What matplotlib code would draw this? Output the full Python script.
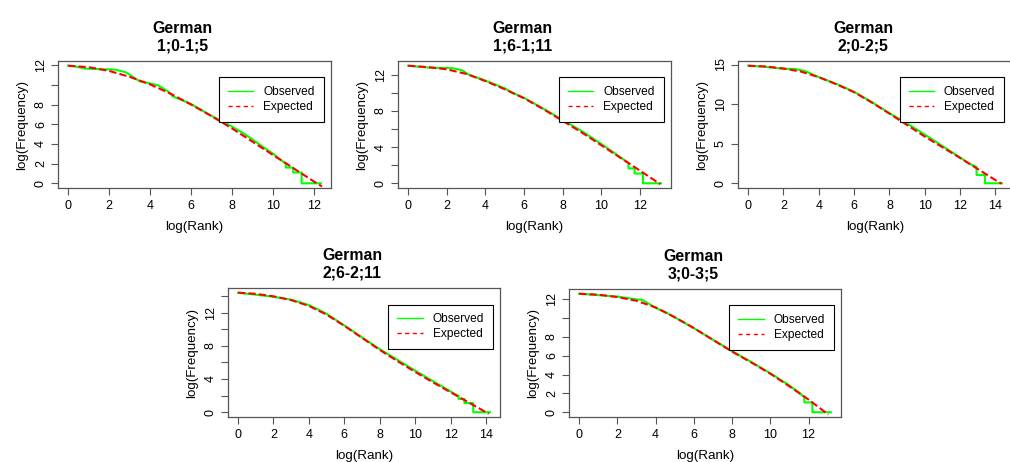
import numpy as np
import matplotlib
matplotlib.use("Agg")
import matplotlib.pyplot as plt
from matplotlib.lines import Line2D

plt.rcParams['font.family'] = ['Liberation Sans', 'DejaVu Sans']

# 每个面板的标题
titles = ["German\n1;0-1;5", "German\n1;6-1;11", "German\n2;0-2;5",
          "German\n2;6-2;11", "German\n3;0-3;5"]

# 观测值 (绿色) log(Rank), log(Frequency)
obs_x_1 = [0, 0.4, 0.85, 1.6, 2.3, 2.8, 3.1, 3.5, 4.0, 4.4, 4.9, 5.1, 6.0, 7.0, 8.0, 8.5,
           9.0, 9.5, 10.0, 10.3, 10.62, 10.62, 10.98, 10.98, 11.39, 11.39, 12.33]
obs_y_1 = [11.95, 11.85, 11.65, 11.6, 11.55, 11.3, 10.9, 10.35, 10.15, 9.95, 9.3, 8.85, 8.05,
           6.85, 5.75, 5.15, 4.45, 3.7, 3.0, 2.5, 2.0, 1.6, 1.6, 1.1, 1.1, 0, 0]
obs_x_2 = [0, 1, 2.3, 2.8, 3.1, 4, 5, 5.4, 6, 7, 8, 9, 10, 11, 11.4, 11.4, 11.72, 11.72,
           12.15, 12.15, 13.08]
obs_y_2 = [13.0, 12.8, 12.72, 12.5, 12.05, 11.35, 10.5, 10.0, 9.45, 8.25, 7.0, 5.75, 4.35,
           2.85, 2.25, 1.65, 1.65, 1.08, 1.08, 0, 0]
obs_x_3 = [0, 1, 2, 2.6, 3.2, 4, 5, 6, 7, 8, 9, 10, 11, 12, 12.5, 12.93, 12.93, 13.4, 13.4, 14.36]
obs_y_3 = [14.85, 14.7, 14.45, 14.45, 14.2, 13.4, 12.55, 11.55, 10.25, 8.85, 7.55, 6.15, 4.7,
           3.25, 2.5, 2.05, 1.05, 1.05, 0, 0]
obs_x_4 = [0, 1, 2, 3, 4, 5, 6, 7, 8, 9, 10, 11, 12, 12.45, 12.45, 12.78, 12.78, 13.28, 13.28, 14.22]
obs_y_4 = [14.38, 14.15, 13.9, 13.55, 12.9, 11.85, 10.45, 9.0, 7.6, 6.3, 5.0, 3.75, 2.5, 1.95,
           1.6, 1.6, 1.1, 1.1, 0, 0]
obs_x_5 = [0, 1, 2, 3, 3.3, 3.6, 4.0, 4.6, 5.0, 6, 7, 8, 9, 10, 11, 11.5, 11.78, 11.78, 12.2,
           12.2, 13.17]
obs_y_5 = [12.6, 12.45, 12.3, 12.0, 11.95, 11.6, 11.1, 10.55, 10.1, 8.95, 7.7, 6.5, 5.35, 4.15,
           2.85, 2.1, 1.6, 1.05, 1.05, 0, 0]

# 期望值 (红色虚线)
exp_x_1 = [0, 1, 2, 3, 4, 5, 6, 7, 8, 9, 10, 11, 12, 12.38]
exp_y_1 = [11.95, 11.8, 11.42, 10.82, 10.05, 9.1, 8.0, 6.82, 5.57, 4.22, 2.87, 1.52, 0.17, -0.32]
exp_x_2 = [0, 1, 2, 3, 4, 5, 6, 7, 8, 9, 10, 11, 12, 13.05]
exp_y_2 = [13.0, 12.85, 12.6, 12.1, 11.3, 10.4, 9.4, 8.2, 6.9, 5.6, 4.2, 2.8, 1.4, -0.1]
exp_x_3 = [0, 1, 2, 3, 4, 5, 6, 7, 8, 9, 10, 11, 12, 13, 14, 14.35]
exp_y_3 = [14.85, 14.75, 14.5, 14.1, 13.4, 12.5, 11.5, 10.2, 8.8, 7.35, 5.9, 4.55, 3.2, 1.8, 0.4, -0.05]
exp_x_4 = [0, 1, 2, 3, 4, 5, 6, 7, 8, 9, 10, 11, 12, 13, 14, 14.15]
exp_y_4 = [14.4, 14.25, 13.95, 13.5, 12.8, 11.75, 10.4, 8.95, 7.5, 6.15, 4.85, 3.6, 2.4, 1.2, 0.0, -0.2]
exp_x_5 = [0, 1, 2, 3, 4, 5, 6, 7, 8, 9, 10, 11, 12, 13.04]
exp_y_5 = [12.6, 12.5, 12.25, 11.85, 11.15, 10.1, 8.95, 7.7, 6.45, 5.3, 4.1, 2.75, 1.35, -0.25]

# 刻度
x_ticks = [list(range(0, 13, 2)), list(range(0, 13, 2)), list(range(0, 15, 2)),
           list(range(0, 15, 2)), list(range(0, 13, 2))]
y_ticks = [list(range(0, 13, 2)), list(range(0, 13, 2)), [0, 5, 10, 15],
           list(range(0, 15, 2)), list(range(0, 13, 2))]
y_labels = [['0', '2', '4', '6', '8', '', '12'],
            ['0', '', '4', '', '8', '', '12'],
            ['0', '5', '10', '15'],
            ['0', '', '4', '', '8', '', '12', ''],
            ['0', '2', '4', '6', '8', '', '12']]

obs_x = [obs_x_1, obs_x_2, obs_x_3, obs_x_4, obs_x_5]
obs_y = [obs_y_1, obs_y_2, obs_y_3, obs_y_4, obs_y_5]
exp_x = [exp_x_1, exp_x_2, exp_x_3, exp_x_4, exp_x_5]
exp_y = [exp_y_1, exp_y_2, exp_y_3, exp_y_4, exp_y_5]

# 面板位置 (像素: 左, 上, 右, 下)
W, H = 1010, 462
boxes = [(58, 61, 331, 188), (398, 61, 671, 188), (738, 61, 1012, 188),
         (228, 288, 500, 417), (569, 289, 841, 417)]

edge = '#555555'


def r_range(v):
    """R 默认的 4% 扩展"""
    lo, hi = min(v), max(v)
    d = (hi - lo) * 0.04
    return lo - d, hi + d


fig = plt.figure(figsize=(W / 100, H / 100), dpi=100)
fig.patch.set_facecolor('white')

for i in range(5):
    l, t, r, b = boxes[i]
    ax = fig.add_axes([l / W, 1 - b / H, (r - l) / W, (b - t) / H])
    ax.plot(obs_x[i], obs_y[i], color='#00FF00', linewidth=1.5, label='Observed')
    ax.plot(exp_x[i], exp_y[i], color='#FF0000', linewidth=1.5, dashes=(3.5, 1.5), label='Expected')
    ax.set_xlim(*r_range(obs_x[i]))
    ax.set_ylim(*r_range(obs_y[i]))
    ax.set_xticks(x_ticks[i])
    ax.set_xticklabels([str(v) for v in x_ticks[i]], fontsize=9)
    ax.set_yticks(y_ticks[i])
    ax.set_yticklabels(y_labels[i], fontsize=9, rotation=90, va='center')
    ax.tick_params(axis='x', length=5, width=0.8, color=edge, pad=3.5)
    ax.tick_params(axis='y', length=5, width=0.8, color=edge, pad=3)
    for s in ax.spines.values():
        s.set_color(edge)
        s.set_linewidth(0.9)
    ax.set_xlabel('log(Rank)', fontsize=9.6, labelpad=6.5)
    ax.set_ylabel('log(Frequency)', fontsize=9.6, labelpad=5)
    ax.set_title(titles[i], fontsize=11.4, fontweight='bold', pad=7.5, linespacing=1.25,
                 x=0.456)

    handles = [Line2D([], [], color='#00FF00', linewidth=1),
               Line2D([], [], color='#FF0000', linewidth=1, dashes=(3, 2.5))]
    leg = ax.legend(handles, ['Observed', 'Expected'], loc='upper left',
                    bbox_to_anchor=(0.59, 0.872), borderaxespad=0, fontsize=8.6,
                    fancybox=False, framealpha=1, edgecolor='black', borderpad=0.75,
                    handlelength=2.1, handletextpad=0.85, labelspacing=0.25)
    leg.get_frame().set_linewidth(0.8)

fig.savefig('out.png', dpi=100)
